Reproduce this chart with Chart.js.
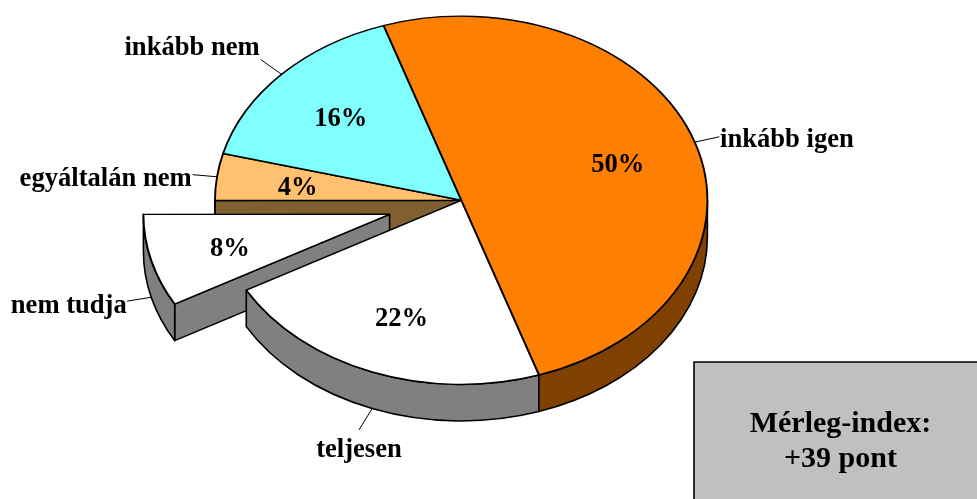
<!DOCTYPE html>
<html>
<head>
<meta charset="utf-8">
<style>html,body{margin:0;padding:0;background:#fff;overflow:hidden}canvas{display:block}</style>
<script src="https://cdn.jsdelivr.net/npm/chart.js@4"></script>
</head>
<body>
<canvas id="c" width="977" height="499"></canvas>
<script>
const categories = ['inkább igen', 'teljesen', 'nem tudja', 'egyáltalán nem', 'inkább nem'];
const shares = [50, 22, 8.1, 4.1, 15.8];
const topColors = ['#FF8000', '#FFFFFF', '#FFFFFF', '#FFC06F', '#80FFFF'];
const wallColors = ['#804000', '#808080', '#808080', '#806030', '#408080'];
const explode = [0, 0, 74, 0, 0];
const balance = ['Mérleg-index:', '+39 pont'];
// leader end relative to its rim anchor, then text x / baseline relative to that end, then alignment
const leaders = [
  [24.5, -5.4, 0.7, 10, 'left'],
  [-13.2, 21.5, 0, 26.7, 'center'],
  [-24.3, 3.9, -0.3, 11.5, 'right'],
  [-24.3, -2.1, -1, 11.2, 'right'],
  [-20.9, -14.8, -1, -5, 'right']
];

const TILT = 0.748, DEPTH = 36.5, LINE = 1.6, CX = 461.2, CY = 200.3, R = 246.2;
const FONT = 'bold 26.6px "Liberation Serif"';
const BOX_FONT = 'bold 30px "Liberation Serif"';

function edge(ctx, fill) {
  ctx.fillStyle = fill; ctx.fill();
  ctx.strokeStyle = '#000'; ctx.lineWidth = LINE; ctx.lineJoin = 'round'; ctx.stroke();
}
function geom(el, i) {
  const mid = (el.startAngle + el.endAngle) / 2;
  return {mid, x: CX + Math.cos(mid) * explode[i], y: CY + Math.sin(mid) * explode[i] * TILT};
}
const pie3d = {
  id: 'pie3d',
  beforeDatasetsDraw(chart) {
    const ctx = chart.ctx, arcs = chart.getDatasetMeta(0).data, ry = R * TILT;
    for (let i = arcs.length - 1; i >= 0; i--) {
      const el = arcs[i], g = geom(el, i);
      const prev = (i + arcs.length - 1) % arcs.length;
      if (explode[i] > 0 || explode[prev] > 0) {
        const px = g.x + Math.cos(el.startAngle) * R, py = g.y + Math.sin(el.startAngle) * ry;
        ctx.beginPath();
        ctx.moveTo(g.x, g.y); ctx.lineTo(px, py); ctx.lineTo(px, py + DEPTH); ctx.lineTo(g.x, g.y + DEPTH); ctx.closePath();
        edge(ctx, wallColors[i]);
      }
      const a1 = Math.max(el.startAngle, 0), a2 = Math.min(el.endAngle, Math.PI);
      if (a2 > a1) {
        ctx.beginPath();
        ctx.ellipse(g.x, g.y, R, ry, 0, a1, a2);
        ctx.ellipse(g.x, g.y + DEPTH, R, ry, 0, a2, a1, true);
        ctx.closePath();
        edge(ctx, wallColors[i]);
      }
      // pull the exploded slice out along its mid-angle (in the untilted plane)
      el.x = CX + Math.cos(g.mid) * explode[i];
      el.y = CY + Math.sin(g.mid) * explode[i];
    }
    ctx.save();
    ctx.translate(0, CY); ctx.scale(1, TILT); ctx.translate(0, -CY);
  },
  afterDatasetsDraw(chart) {
    const ctx = chart.ctx, arcs = chart.getDatasetMeta(0).data;
    ctx.restore();
    ctx.font = FONT; ctx.textBaseline = 'alphabetic';
    arcs.forEach((el, i) => {
      const g = geom(el, i), c = Math.cos(g.mid), s = Math.sin(g.mid);
      ctx.fillStyle = '#000';
      ctx.textAlign = 'center';
      ctx.fillText(Math.round(shares[i]) + '%', g.x + c * R * 0.67, g.y + s * R * 0.67 * TILT + 10.5);
      const ax = g.x + c * R, ay = g.y + s * R * TILT + (s > 0 ? DEPTH : 0);
      const [dx, dy, tx, ty, align] = leaders[i];
      ctx.beginPath(); ctx.moveTo(ax, ay); ctx.lineTo(ax + dx, ay + dy);
      ctx.lineWidth = 1; ctx.strokeStyle = '#000'; ctx.stroke();
      ctx.textAlign = align;
      ctx.fillText(categories[i], ax + dx + tx, ay + dy + ty);
    });
    ctx.beginPath(); ctx.rect(694, 362, 290, 150);
    edge(ctx, '#C0C0C0');
    ctx.font = BOX_FONT;
    ctx.fillStyle = '#000'; ctx.textAlign = 'center';
    balance.forEach((t, i) => ctx.fillText(t, 840.5, 431.7 + i * 35.6));
  }
};
new Chart(document.getElementById('c'), {
  type: 'pie',
  data: {
    labels: categories,
    datasets: [{
      data: shares, backgroundColor: topColors,
      borderColor: '#000', borderWidth: 1.9, clip: false
    }]
  },
  options: {
    responsive: false, animation: false, rotation: -18.4, radius: R,
    layout: {padding: {left: 0, top: 0, right: 977 - 2 * CX, bottom: 499 - 2 * CY}},
    plugins: {legend: {display: false}, tooltip: {enabled: false}}
  },
  plugins: [pie3d]
});
</script>
</body>
</html>
